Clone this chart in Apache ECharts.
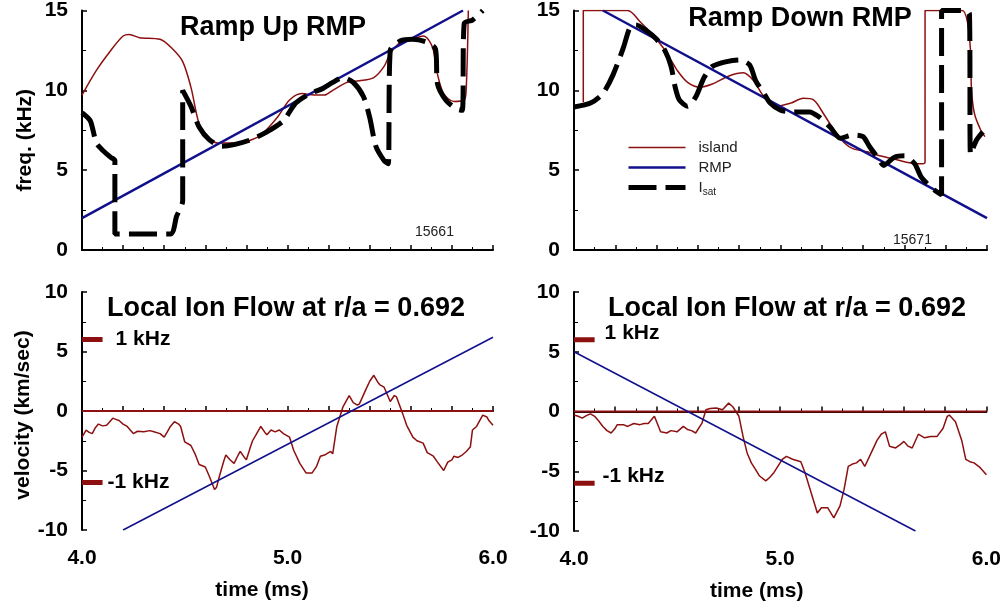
<!DOCTYPE html>
<html>
<head>
<meta charset="utf-8">
<script src="https://cdn.jsdelivr.net/npm/echarts@6/dist/echarts.min.js"></script>
<style>
html, body { margin: 0; padding: 0; background: #fff; }
#chart { width: 1004px; height: 604px; }
</style>
</head>
<body>
<div id="chart"></div>
<script>
// ramp up shot 15661 : [time ms, freq kHz]
var upIsland = [[4.0,9.7],[4.07,11.25],[4.14,12.5],[4.2,13.4],[4.23,13.5],[4.28,13.3],[4.38,13.2],[4.44,12.6],[4.49,11.8],[4.53,10.2],[4.57,7.9],[4.61,7.1],[4.66,6.7],[4.74,6.7],[4.8,6.8],[4.87,7.2],[4.95,8.3],[5.01,9.4],[5.07,9.8],[5.13,9.7],[5.18,9.7],[5.22,10.0],[5.29,10.5],[5.35,10.6],[5.42,10.8],[5.47,11.5],[5.5,12.3],[5.55,13.0],[5.61,13.2],[5.66,13.4],[5.69,13.1],[5.71,12.5],[5.73,11.0],[5.76,9.8],[5.81,9.3],[5.86,9.4],[5.87,10.2],[5.88,15.0]];
var upIsat = [[4.0,8.6],[4.04,8.1],[4.07,6.7],[4.1,6.25],[4.14,5.8],[4.16,5.6],[4.16,1.0],[4.43,1.0],[4.46,2.1],[4.49,3.1],[4.49,10.0],[4.53,9.0],[4.57,7.7],[4.62,6.9],[4.68,6.5],[4.74,6.6],[4.82,6.9],[4.9,7.4],[4.98,8.1],[5.04,9.2],[5.11,9.8],[5.17,10.1],[5.22,10.5],[5.27,10.8],[5.32,10.5],[5.37,9.6],[5.4,8.3],[5.43,6.5],[5.47,5.6],[5.49,5.4],[5.5,12.5],[5.55,13.1],[5.61,13.2],[5.68,13.0],[5.72,12.6],[5.73,10.4],[5.77,9.4],[5.82,8.85],[5.85,8.75],[5.86,14.2],[5.9,14.4],[5.95,15.0]];
var upRmp = [[4.0,2.0],[5.854,15.0]];

// ramp down shot 15671
var downIsland = [[4.045,9.25],[4.045,15.0],[4.26,15.0],[4.32,14.3],[4.38,13.5],[4.43,12.7],[4.46,12.1],[4.5,11.25],[4.55,10.5],[4.61,10.2],[4.67,10.4],[4.75,10.9],[4.82,11.1],[4.87,10.6],[4.92,9.6],[4.98,9.0],[5.05,9.2],[5.11,9.5],[5.16,9.4],[5.21,8.5],[5.26,7.5],[5.31,6.7],[5.35,6.35],[5.42,6.15],[5.48,5.9],[5.55,5.7],[5.61,5.5],[5.68,5.4],[5.7,5.5],[5.7,15.0],[5.88,15.0],[5.905,14.3],[5.92,12.5],[5.925,10.0],[5.94,8.5],[5.97,7.5],[5.99,7.1]];
var downIsat = [[4.0,8.96],[4.08,9.2],[4.14,9.8],[4.19,11.0],[4.24,12.7],[4.27,13.9],[4.3,14.1],[4.35,13.75],[4.4,13.2],[4.44,12.5],[4.47,11.5],[4.49,10.2],[4.51,9.4],[4.55,9.0],[4.59,9.6],[4.63,10.8],[4.67,11.5],[4.74,11.8],[4.8,11.9],[4.85,11.6],[4.88,10.6],[4.92,9.8],[4.95,9.2],[5.0,8.75],[5.06,8.65],[5.14,8.65],[5.19,8.3],[5.24,7.7],[5.29,7.0],[5.35,7.2],[5.4,7.1],[5.43,6.5],[5.47,5.8],[5.5,5.3],[5.55,5.8],[5.6,5.9],[5.65,5.4],[5.68,4.6],[5.73,3.9],[5.78,3.45],[5.78,15.0],[5.89,15.0],[5.915,14.8],[5.92,6.0],[5.95,6.9],[5.98,7.4]];
var downRmp = [[4.14,15.0],[6.0,2.0]];

// local ion flow, km/sec
var upVel = [[4.0,-2.2],[4.01,-1.9],[4.02,-1.6],[4.035,-1.8],[4.05,-1.9],[4.065,-1.4],[4.08,-1.1],[4.1,-1.25],[4.12,-1.2],[4.135,-0.9],[4.15,-0.6],[4.165,-0.7],[4.18,-0.8],[4.2,-1.1],[4.22,-1.3],[4.24,-1.7],[4.25,-1.9],[4.27,-1.7],[4.3,-1.75],[4.33,-1.65],[4.35,-1.75],[4.38,-1.9],[4.4,-2.2],[4.42,-1.6],[4.43,-1.3],[4.45,-0.9],[4.47,-1.1],[4.48,-1.3],[4.5,-2.6],[4.53,-2.9],[4.55,-3.6],[4.57,-4.5],[4.6,-4.7],[4.62,-5.5],[4.645,-6.6],[4.655,-6.4],[4.67,-5.4],[4.69,-4.2],[4.7,-3.7],[4.72,-4.1],[4.74,-4.4],[4.76,-3.7],[4.77,-3.4],[4.79,-3.9],[4.8,-4.1],[4.82,-3.0],[4.83,-2.5],[4.85,-1.9],[4.87,-1.3],[4.89,-1.8],[4.9,-2.0],[4.92,-1.6],[4.94,-1.75],[4.96,-1.6],[4.98,-1.9],[5.01,-2.2],[5.03,-3.3],[5.06,-4.4],[5.09,-5.2],[5.12,-5.2],[5.14,-4.7],[5.16,-3.8],[5.18,-3.7],[5.21,-3.4],[5.22,-3.6],[5.24,-1.3],[5.27,0.35],[5.3,1.3],[5.32,0.7],[5.34,0.5],[5.35,0.6],[5.38,1.75],[5.4,2.5],[5.42,3.0],[5.44,2.4],[5.45,2.2],[5.47,2.0],[5.5,0.8],[5.52,1.3],[5.53,1.2],[5.56,-0.2],[5.58,-1.2],[5.61,-2.2],[5.63,-2.5],[5.66,-2.7],[5.68,-3.5],[5.71,-3.8],[5.73,-4.3],[5.76,-5.0],[5.78,-4.3],[5.8,-4.1],[5.81,-3.8],[5.83,-3.9],[5.85,-3.7],[5.87,-3.4],[5.89,-3.0],[5.9,-1.6],[5.92,-1.3],[5.95,-0.35],[5.97,-0.5],[5.98,-0.8],[6.0,-1.2]];
var downVel = [[4.0,-0.3],[4.02,-0.4],[4.04,-0.55],[4.06,-0.35],[4.08,-0.2],[4.1,-0.4],[4.12,-0.8],[4.14,-1.25],[4.16,-1.6],[4.18,-1.8],[4.2,-1.4],[4.21,-1.1],[4.24,-1.1],[4.26,-1.25],[4.29,-1.0],[4.32,-1.1],[4.34,-1.0],[4.36,-1.0],[4.39,-0.4],[4.42,-1.7],[4.45,-1.8],[4.47,-1.6],[4.5,-1.7],[4.53,-1.25],[4.55,-1.5],[4.57,-1.6],[4.59,-1.8],[4.62,-1.0],[4.64,0.15],[4.66,0.25],[4.69,0.3],[4.72,0.15],[4.75,0.7],[4.77,0.4],[4.8,-0.4],[4.82,-2.1],[4.84,-3.5],[4.86,-4.3],[4.88,-4.85],[4.9,-5.4],[4.93,-5.8],[4.95,-5.5],[4.97,-5.1],[5.01,-4.0],[5.03,-3.75],[5.06,-4.0],[5.1,-4.2],[5.12,-5.1],[5.15,-6.8],[5.18,-8.5],[5.2,-8.05],[5.23,-8.05],[5.26,-8.9],[5.29,-7.9],[5.31,-6.5],[5.33,-4.6],[5.35,-4.4],[5.37,-4.3],[5.39,-4.0],[5.41,-4.6],[5.44,-3.5],[5.47,-2.4],[5.49,-1.9],[5.51,-1.7],[5.53,-2.9],[5.56,-3.05],[5.58,-2.8],[5.6,-2.5],[5.62,-2.9],[5.64,-3.05],[5.67,-1.9],[5.7,-2.2],[5.73,-2.1],[5.76,-2.1],[5.79,-1.4],[5.81,-0.4],[5.82,-0.3],[5.85,-0.85],[5.88,-2.4],[5.9,-4.0],[5.92,-4.2],[5.94,-4.3],[5.97,-4.7],[6.0,-5.3]];
var upVelRmp = [[4.2,-10.0],[6.0,6.2]];
var downVelRmp = [[4.0,5.0],[5.656,-10.0]];
var zeroLine = [[4.0,0],[6.0,0]];
var plusMark = [[4.0,6],[4.1,6]];
var minusMark = [[4.0,-6],[4.1,-6]];

var timeTicks = ['4.0', '5.0', '6.0'];

const FONT = 'Arial, "Liberation Sans", sans-serif';
const RED = '#8c1010';
const BLUE = '#10108c';

const myChart = echarts.init(document.getElementById('chart'));

function xAxis(grid, showLabels, title, pad) {
    return {
        type: 'value', gridIndex: grid, min: 4, max: 6, interval: 0.2,
        name: title, nameLocation: 'middle', nameGap: 50,
        nameTextStyle: { fontFamily: FONT, fontSize: 21, fontWeight: 'bold', color: '#000', padding: [0, pad, 0, 0] },
        axisLine: { lineStyle: { color: '#000', width: 2 } },
        axisTick: { inside: true, length: 5, lineStyle: { color: '#000', width: 1.5 } },
        minorTick: { show: true, splitNumber: 2, length: 3, lineStyle: { color: '#000', width: 1 } },
        splitLine: { show: false },
        axisLabel: {
            show: showLabels, margin: 18, fontFamily: FONT, fontSize: 21, fontWeight: 'bold', color: '#000',
            formatter: function (v) {
                var s = v.toFixed(1);
                return timeTicks.indexOf(s) >= 0 ? s : '';
            }
        }
    };
}

function yAxis(grid, lo, hi, title, gap, pad) {
    return {
        type: 'value', gridIndex: grid, min: lo, max: hi, interval: 5,
        name: title, nameLocation: 'middle', nameGap: gap, nameRotate: 90,
        nameTextStyle: { fontFamily: FONT, fontSize: 21, fontWeight: 'bold', color: '#000', padding: [0, pad, 0, 0] },
        axisLine: { show: true, lineStyle: { color: '#000', width: 2 } },
        axisTick: { inside: true, length: 5, lineStyle: { color: '#000', width: 1.5 } },
        minorTick: { show: true, splitNumber: 2, length: 4, lineStyle: { color: '#000', width: 1 } },
        splitLine: { show: false },
        axisLabel: { margin: 14, fontFamily: FONT, fontSize: 21, fontWeight: 'bold', color: '#000' }
    };
}

function line(name, idx, data, color, width, extra) {
    var s = {
        name: name, type: 'line', xAxisIndex: idx, yAxisIndex: idx, data: data,
        symbol: 'none', silent: true, animation: false,
        lineStyle: { color: color, width: width },
        itemStyle: { color: color }
    };
    return Object.assign(s, extra || {});
}

function dashed(idx, data) {
    return line('Isat', idx, data, '#000', 5, {
        smooth: 0.25,
        lineStyle: { color: '#000', width: 5, type: [28, 9], cap: 'butt' }
    });
}

function marker(idx, data, text, dist, dy) {
    return line('', idx, data, RED, 5, {
        endLabel: { show: true, formatter: text, distance: dist, offset: [0, dy],
            fontFamily: FONT, fontSize: 21, fontWeight: 'bold', color: '#000' }
    });
}

const option = {
    animation: false,
    grid: [
        { left: 82, top: 10, width: 411, height: 240 },
        { left: 574, top: 10, width: 413, height: 240 },
        { left: 82, top: 292, width: 411, height: 238 },
        { left: 574, top: 292, width: 413, height: 239 }
    ],
    title: [
        { text: 'Ramp Up RMP', left: 273, top: 14, textAlign: 'center', padding: 0,
          textStyle: { fontFamily: FONT, fontSize: 27, fontWeight: 'bold', color: '#000' } },
        { text: 'Ramp Down RMP', left: 800, top: 5, textAlign: 'center', padding: 0,
          textStyle: { fontFamily: FONT, fontSize: 27, fontWeight: 'bold', color: '#000' } },
        { text: 'Local Ion Flow at r/a = 0.692', left: 286, top: 295, textAlign: 'center', padding: 0,
          textStyle: { fontFamily: FONT, fontSize: 27, fontWeight: 'bold', color: '#000' } },
        { text: 'Local Ion Flow at r/a = 0.692', left: 787, top: 295, textAlign: 'center', padding: 0,
          textStyle: { fontFamily: FONT, fontSize: 27, fontWeight: 'bold', color: '#000' } },
        { text: '15661', left: 415, top: 225, padding: 0,
          textStyle: { fontFamily: FONT, fontSize: 14, fontWeight: 'normal', color: '#222' } },
        { text: '15671', left: 893, top: 233, padding: 0,
          textStyle: { fontFamily: FONT, fontSize: 14, fontWeight: 'normal', color: '#222' } }
    ],
    legend: {
        data: ['island', 'RMP', 'Isat'],
        orient: 'vertical', left: 621, top: 135,
        itemWidth: 57, itemHeight: 14, itemGap: 5,
        selectedMode: false,
        itemStyle: { opacity: 0, borderWidth: 0 },
        lineStyle: { width: 'inherit' },
        textStyle: { fontFamily: FONT, fontSize: 15, color: '#222', padding: [0, 0, 0, 8],
            rich: {
                i: { fontFamily: FONT, fontSize: 15, color: '#222' },
                s: { fontFamily: FONT, fontSize: 10, color: '#222', padding: [10, 0, 0, 0] }
            }
        },
        formatter: function (name) {
            return name === 'Isat' ? '{i|I}{s|sat}' : name;
        }
    },
    xAxis: [
        xAxis(0, false, '', 0),
        xAxis(1, false, '', 0),
        xAxis(2, true, 'time (ms)', 51),
        xAxis(3, true, 'time (ms)', 47)
    ],
    yAxis: [
        yAxis(0, 0, 15, 'freq. (kHz)', 46, 20),
        yAxis(1, 0, 15, '', 46, 0),
        yAxis(2, -10, 10, 'velocity (km/sec)', 41, 8),
        yAxis(3, -10, 10, '', 41, 0)
    ],
    series: [
        line('island', 0, upIsland, RED, 1.5, { smooth: 0.3 }),
        line('RMP', 0, upRmp, BLUE, 2.5),
        dashed(0, upIsat),
        line('island', 1, downIsland, RED, 1.5, { smooth: 0.3 }),
        line('RMP', 1, downRmp, BLUE, 2.5),
        dashed(1, downIsat),
        line('', 2, zeroLine, RED, 2),
        line('', 2, upVel, RED, 1.5),
        line('', 2, upVelRmp, BLUE, 1.5),
        marker(2, plusMark, '1 kHz', 13, 0),
        marker(2, minusMark, '-1 kHz', 5, 0),
        line('', 3, zeroLine, RED, 2),
        line('', 3, downVel, RED, 1.5),
        line('', 3, downVelRmp, BLUE, 1.5),
        marker(3, plusMark, '1 kHz', 10, -7),
        marker(3, minusMark, '-1 kHz', 8, -7)
    ]
};
myChart.setOption(option);
</script>
</body>
</html>
